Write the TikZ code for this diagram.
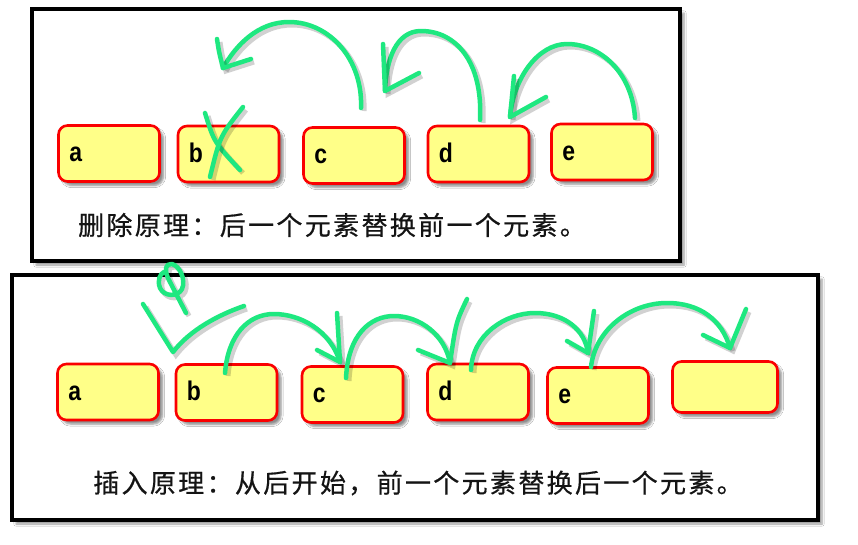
\documentclass[tikz,border=0pt]{standalone}
\usepackage{fontspec}
\setmainfont{Liberation Sans}
\newfontfamily\cjk[LetterSpace=9,FakeBold=0.6]{Noto Sans CJK SC}
\usetikzlibrary{calc,shadows.blur}
\definecolor{boxfill}{RGB}{255,255,136}
\definecolor{boxline}{RGB}{250,0,0}
\definecolor{pen}{RGB}{30,232,128}
\begin{document}
\begin{tikzpicture}[x=1pt,y=-1pt,
  frame/.style={draw=black, line width=4pt, fill=white, blur shadow={shadow xshift=4pt, shadow yshift=-4pt, shadow blur steps=6, shadow opacity=40}},
  cell/.style={draw=boxline, fill=boxfill, line width=2.6pt, rounded corners=9pt, minimum width=101pt, minimum height=56pt, inner sep=0pt, blur shadow={shadow xshift=4pt, shadow yshift=-4pt, shadow blur steps=5, shadow opacity=45}},
  lbl/.style={anchor=base west, inner sep=0pt, font=\fontsize{27}{30}\selectfont\bfseries},
  note/.style={inner sep=0pt, text=black!92, font=\fontsize{26}{30}\selectfont\cjk},
  stroke/.style={draw=pen, line width=4.5pt, line cap=round, line join=round,
    preaction={draw=black, opacity=0.18, line width=5pt, transform canvas={shift={(3pt,-3pt)}}}}
]
\useasboundingbox (0,0) rectangle (858,544);
\fill[white] (0,0) rectangle (858,544);

% frames
\draw[frame] (32,9) rectangle (680,261);
\draw[frame] (12,275) rectangle (818,520);

% top row
\node[cell] (ta) at (109,153.5) {};
\node[cell] (tb) at (228.5,154) {};
\node[cell] (tc) at (354,155.5) {};
\node[cell] (td) at (478.5,154) {};
\node[cell] (te) at (602,152) {};
\node[lbl] (tal) at ($(ta.west)+(12,8)$) {\scalebox{0.85}[1]{a}};
\node[lbl] (tbl) at ($(tb.west)+(12,8)$) {\scalebox{0.85}[1]{b}};
\node[lbl] (tcl) at ($(tc.west)+(12,8)$) {\scalebox{0.85}[1]{c}};
\node[lbl] (tdl) at ($(td.west)+(12,8)$) {\scalebox{0.85}[1]{d}};
\node[lbl] (tel) at ($(te.west)+(12,8)$) {\scalebox{0.85}[1]{e}};

% bottom row
\node[cell] (ba) at (108,392) {};
\node[cell] (bb) at (226.5,392.5) {};
\node[cell] (bc) at (352.5,394.5) {};
\node[cell] (bd) at (478,392) {};
\node[cell] (be) at (598,395.5) {};
\node[cell, minimum width=105pt, minimum height=51pt] (bf) at (725,387) {};
\node[lbl] (bal) at ($(ba.west)+(12,8)$) {\scalebox{0.85}[1]{a}};
\node[lbl] (bbl) at ($(bb.west)+(12,8)$) {\scalebox{0.85}[1]{b}};
\node[lbl] (bcl) at ($(bc.west)+(12,8)$) {\scalebox{0.85}[1]{c}};
\node[lbl] (bdl) at ($(bd.west)+(12,8)$) {\scalebox{0.85}[1]{d}};
\node[lbl] (bel) at ($(be.west)+(12,8)$) {\scalebox{0.85}[1]{e}};

% captions
\node[note] (tnote) at (332,225) {删除原理：后一个元素替换前一个元素。};
\node[note] (bnote) at (418,483) {插入原理：从后开始，前一个元素替换后一个元素。};

% top green strokes
\draw[stroke] (361,108) .. controls (363,60) and (330,22) .. (289,22) .. controls (258,22) and (236,45) .. (223,68);
\draw[stroke] (217,39) .. controls (219,52) .. (223,68) -- (251,59);
\draw[stroke] (480,120) .. controls (483,62) and (456,31) .. (421,31) .. controls (396,31) and (386,60) .. (385,91);
\draw[stroke] (383,44) -- (385,91) -- (419,73);
\draw[stroke] (635,118) .. controls (632,72) and (600,44) .. (567,44) .. controls (537,44) and (513,80) .. (510,117);
\draw[stroke] (514,76) -- (510,117) -- (546,97);
% cross on b
\draw[stroke] (205,113) .. controls (214,142) .. (240,170);
\draw[stroke] (243,107) .. controls (220,136) .. (210,177);

% bottom green strokes
\draw[stroke] (186,313) -- (170,282) .. controls (163,270) and (166,263) .. (172,264) .. controls (180,266) and (186,280) .. (182,289) .. controls (178,297) and (164,297) .. (160,288) .. controls (157,280) and (160,274) .. (164,272);
\draw[stroke] (143,304) -- (173,352) .. controls (190,330) and (218,315) .. (244,306);
\draw[stroke] (225,373) .. controls (228,335) and (248,314) .. (274,314) .. controls (300,314) and (330,330) .. (340,362);
\draw[stroke] (337,313) -- (340,362) -- (317,350);
\draw[stroke] (346,378) .. controls (348,335) and (370,316) .. (394,316) .. controls (420,316) and (445,335) .. (450,363);
\draw[stroke] (467,299) .. controls (456,322) .. (450,363) -- (418,350);
\draw[stroke] (471,370) .. controls (472,335) and (505,313) .. (535,313) .. controls (565,313) and (585,330) .. (588,353);
\draw[stroke] (594,311) -- (588,353) -- (567,341);
\draw[stroke] (591,367) .. controls (595,330) and (630,303) .. (667,303) .. controls (700,303) and (722,320) .. (730,348);
\draw[stroke] (746,309) -- (730,348) -- (703,335);
\end{tikzpicture}
\end{document}
